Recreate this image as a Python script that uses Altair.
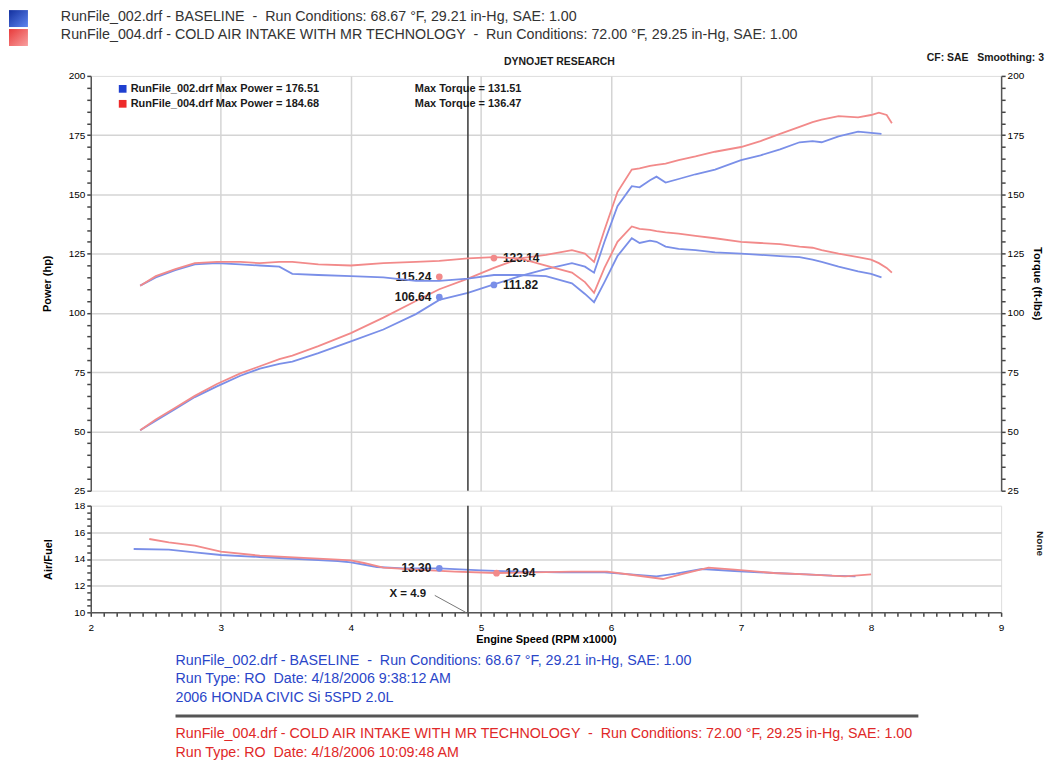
import altair as alt
import pandas as pd

# ---------------- data (read from the dyno sheet) ----------------
blue_rpm = [2.38, 2.5, 2.65, 2.8, 2.97, 3.15, 3.3, 3.45, 3.55, 3.75, 4.0, 4.25, 4.5, 4.68, 4.9,
            5.1, 5.3, 5.5, 5.7, 5.8, 5.87, 5.95, 6.05, 6.16, 6.22, 6.3, 6.35, 6.42, 6.52, 6.65,
            6.8, 7.0, 7.15, 7.3, 7.45, 7.55, 7.62, 7.75, 7.9, 8.0, 8.08]
blue_power = [50.5, 54.5, 59.5, 64.5, 69, 73.5, 76.5, 78.5, 79.5, 83, 88, 93, 99.5, 105.5, 108.5,
              112, 115.5, 118.5, 121, 119.5, 117, 130, 145, 153.5, 153, 156, 157.5, 155, 156.5, 158.5,
              160.5, 164.5, 166.5, 169, 172, 172.5, 172, 174.5, 176.5, 176, 175.5]
blue_torque = [111.5, 115, 118, 120.5, 121, 120.5, 120, 119.5, 116.5, 116, 115.5, 115, 113.5, 113.5, 114.5,
               116, 116, 115.5, 112.5, 108, 104.5, 113, 124, 131.5, 129.5, 130.5, 130, 128, 127, 126.5,
               125.5, 125, 124.5, 124, 123.5, 122.5, 121.5, 119.5, 117.5, 116.5, 115]

red_rpm = [2.38, 2.5, 2.65, 2.8, 2.97, 3.15, 3.3, 3.45, 3.55, 3.75, 4.0, 4.25, 4.5, 4.68, 4.9,
           5.1, 5.3, 5.5, 5.7, 5.8, 5.87, 5.95, 6.05, 6.16, 6.22, 6.3, 6.35, 6.42, 6.52, 6.65,
           6.8, 7.0, 7.15, 7.3, 7.45, 7.55, 7.62, 7.75, 7.9, 8.0, 8.06, 8.12, 8.16]
red_power = [50.5, 55, 60, 65, 70, 74.5, 77.5, 80.5, 82, 86, 91.5, 98, 105, 110, 114.5,
             119, 123, 124.5, 126.5, 125, 121.5, 135, 151, 160.5, 161, 162, 162.5, 163, 164.5, 166,
             168, 170, 172.5, 175.5, 178.5, 180.5, 181.5, 183, 182.5, 183.5, 184.5, 183.5, 180]
red_torque = [111.5, 115.5, 118.5, 121, 121.5, 121.5, 121, 121.5, 121.5, 120.5, 120, 121, 121.5, 122, 123,
              123.5, 123, 120, 117, 113, 108.5, 119, 130, 136.5, 135.5, 135, 134.5, 134, 133.5, 132.5,
              131.5, 130, 129.5, 129, 128, 127.5, 126.5, 125, 123.5, 122.5, 121, 119, 117]

blue_af_rpm = [2.33, 2.6, 2.8, 3.0, 3.3, 3.6, 3.9, 4.0, 4.2, 4.4, 4.68, 5.0, 5.3, 5.6, 5.95, 6.15,
               6.35, 6.5, 6.7, 6.95, 7.25, 7.5, 7.7, 7.88]
blue_af = [14.75, 14.7, 14.5, 14.3, 14.15, 14.0, 13.85, 13.75, 13.4, 13.3, 13.3, 13.15, 13.05, 13.0,
           13.0, 12.85, 12.7, 12.9, 13.25, 13.1, 12.95, 12.85, 12.75, 12.7]
red_af_rpm = [2.45, 2.6, 2.8, 3.0, 3.3, 3.6, 3.9, 4.0, 4.1, 4.25, 4.5, 4.8, 5.12, 5.4, 5.7, 5.97,
              6.17, 6.4, 6.56, 6.75, 6.95, 7.25, 7.5, 7.8, 8.0]
red_af = [15.5, 15.25, 15.0, 14.55, 14.25, 14.1, 13.95, 13.9, 13.7, 13.35, 13.2, 13.05, 12.95, 13.0,
          13.05, 13.05, 12.8, 12.5, 12.9, 13.35, 13.2, 12.95, 12.85, 12.7, 12.85]

cursor_rpm = [4.9]
marker_rpm = [4.68, 4.68, 5.1, 5.1]
marker_val = [106.64, 115.24, 111.82, 123.14]
marker_run = ["Baseline", "CAI", "Baseline", "CAI"]
marker_side = ["left", "left", "right", "right"]
af_marker_rpm = [4.68, 5.12]
af_marker_val = [13.30, 12.94]
af_marker_run = ["Baseline", "CAI"]
af_marker_side = ["left", "right"]

max_power = {"Baseline": 176.51, "CAI": 184.68}
max_torque = {"Baseline": 131.51, "CAI": 136.47}

NB = "\u00a0"
run_line1 = [f"RunFile_002.drf - BASELINE {NB}-{NB} Run Conditions: 68.67 \u00b0F, 29.21 in-Hg, SAE: 1.00",
             f"RunFile_004.drf - COLD AIR INTAKE WITH MR TECHNOLOGY {NB}-{NB} Run Conditions: 72.00 \u00b0F, 29.25 in-Hg, SAE: 1.00"]
run_line2 = [f"Run Type: RO {NB}Date: 4/18/2006 9:38:12 AM", f"Run Type: RO {NB}Date: 4/18/2006 10:09:48 AM"]
vehicle = "2006 HONDA CIVIC Si 5SPD 2.0L"

# ---------------- styling ----------------
FONT = "Liberation Sans"
BLUE_LINE = "#7a8fe8"
RED_LINE = "#f28a8a"
BLUE_MARK = "#1f3fd0"
RED_MARK = "#ee2a2a"
BLUE_TXT = "#2a46c8"
RED_TXT = "#e02828"
GRID = "#d4d4d4"
W = 913
H_MAIN = 416
H_AF = 107
TXT = 14.3

color_scale = alt.Scale(domain=["Baseline", "CAI"], range=[BLUE_LINE, RED_LINE])
mark_scale = alt.Scale(domain=["Baseline", "CAI"], range=[BLUE_MARK, RED_MARK])

power_df = pd.concat([
    pd.DataFrame({"rpm": blue_rpm, "value": blue_power, "run": "Baseline"}),
    pd.DataFrame({"rpm": red_rpm, "value": red_power, "run": "CAI"}),
])
torque_df = pd.concat([
    pd.DataFrame({"rpm": blue_rpm, "value": blue_torque, "run": "Baseline"}),
    pd.DataFrame({"rpm": red_rpm, "value": red_torque, "run": "CAI"}),
])
af_df = pd.concat([
    pd.DataFrame({"rpm": blue_af_rpm, "value": blue_af, "run": "Baseline"}),
    pd.DataFrame({"rpm": red_af_rpm, "value": red_af, "run": "CAI"}),
])
mk_df = pd.DataFrame({"rpm": marker_rpm, "value": marker_val, "run": marker_run, "side": marker_side})
mk_df["label"] = mk_df["value"].map(lambda v: f"{v:.2f}")
afmk_df = pd.DataFrame({"rpm": af_marker_rpm, "value": af_marker_val, "run": af_marker_run, "side": af_marker_side})
afmk_df["label"] = afmk_df["value"].map(lambda v: f"{v:.2f}")
cur_df = pd.DataFrame({"rpm": cursor_rpm})

one = pd.DataFrame({"a": [0]})


def txt(text, x, y, size=9, weight="bold", color="#1a1a1a", align="left", angle=0):
    return alt.Chart(one).mark_text(text=text, fontSize=size, fontWeight=weight, color=color,
                                    align=align, baseline="middle", font=FONT, angle=angle).encode(
        x=alt.value(x), y=alt.value(y))


def box(x1, x2, y1, y2, c_top, c_bottom):
    grad = alt.LinearGradient(gradient="linear", x1=0, y1=0, x2=1, y2=1,
                              stops=[alt.GradientStop(color=c_top, offset=0),
                                     alt.GradientStop(color=c_bottom, offset=1)])
    return alt.Chart(one).mark_rect(color=grad).encode(
        x=alt.value(x1), x2=alt.value(x2), y=alt.value(y1), y2=alt.value(y2))


# ---------------- main (power / torque) panel ----------------
x_main = alt.X("rpm:Q", scale=alt.Scale(domain=[2, 9], nice=False, zero=False),
               axis=alt.Axis(values=[3, 4, 5, 6, 7, 8], labels=False, ticks=False, domain=False,
                             grid=True, gridColor=GRID, gridWidth=1.5, title=None))

minor_main = list(range(25, 201, 5))
left_axis = alt.Axis(values=minor_main, labelExpr="datum.value % 25 == 0 ? datum.label : ''",
                     labelOverlap=False, labelFlush=False, grid=True, gridColor=GRID, gridWidth=1.5,
                     gridOpacity={"condition": {"test": "datum.value % 25 == 0 && datum.value > 25 && datum.value < 200",
                                                "value": 1}, "value": 0},
                     tickSize=4, tickWidth=1.5, tickColor="#444", domainColor="#555", domainWidth=1.5,
                     title="Power (hp)", titlePadding=16)
right_axis = alt.Axis(values=minor_main, labelExpr="datum.value % 25 == 0 ? datum.label : ''",
                      labelOverlap=False, labelFlush=False, grid=False, orient="right",
                      tickSize=4, tickWidth=1.5, tickColor="#444", domainColor="#555", domainWidth=1.5,
                      title="Torque (ft-lbs)", titlePadding=8)
yscale = alt.Scale(domain=[25, 200], nice=False, zero=False)

power_lines = alt.Chart(power_df).mark_line(strokeWidth=1.8).encode(
    x=x_main, y=alt.Y("value:Q", scale=yscale, axis=left_axis),
    color=alt.Color("run:N", scale=color_scale, legend=None), detail="run:N")

cursor_main = alt.Chart(cur_df).mark_rule(color="#444", strokeWidth=1.6).encode(x=x_main)

markers = alt.Chart(mk_df).mark_point(filled=True, size=45, opacity=1).encode(
    x=x_main, y=alt.Y("value:Q", scale=yscale, axis=left_axis),
    color=alt.Color("run:N", scale=mark_scale, legend=None))
mk_left = alt.Chart(mk_df).transform_filter("datum.side == 'left'").mark_text(
    align="right", dx=-8, fontSize=12, fontWeight="bold", font=FONT, color="#1a1a1a").encode(
    x=x_main, y=alt.Y("value:Q", scale=yscale, axis=left_axis), text="label:N")
mk_right = alt.Chart(mk_df).transform_filter("datum.side == 'right'").mark_text(
    align="left", dx=9, fontSize=12, fontWeight="bold", font=FONT, color="#1a1a1a").encode(
    x=x_main, y=alt.Y("value:Q", scale=yscale, axis=left_axis), text="label:N")

main_annotations = [
    box(-82, -63, -66, -49, "#13309e", "#5f86f0"),
    box(-82, -63, -47, -30, "#e83a3a", "#f8a0a0"),
    txt(run_line1[0], -30, -59, size=TXT, weight="normal", color="#333"),
    txt(run_line1[1], -30, -41, size=TXT, weight="normal", color="#333"),
    txt("DYNOJET RESEARCH", 470, -14, size=10.5, align="center"),
    txt(f"CF: SAE{NB}{NB} Smoothing: 3", 956, -18, size=10.5, align="right"),
    alt.Chart(one).mark_square(size=60, color=BLUE_MARK, opacity=1).encode(x=alt.value(32), y=alt.value(13)),
    alt.Chart(one).mark_square(size=60, color=RED_MARK, opacity=1).encode(x=alt.value(32), y=alt.value(28)),
    txt(f"RunFile_002.drf Max Power = {max_power['Baseline']:.2f}", 40, 13, size=11),
    txt(f"Max Torque = {max_torque['Baseline']:.2f}", 325, 13, size=11),
    txt(f"RunFile_004.drf Max Power = {max_power['CAI']:.2f}", 40, 28, size=11),
    txt(f"Max Torque = {max_torque['CAI']:.2f}", 325, 28, size=11),
]

left_layer = alt.layer(power_lines, cursor_main, markers, mk_left, mk_right, *main_annotations)
torque_lines = alt.Chart(torque_df).mark_line(strokeWidth=1.8).encode(
    x=x_main, y=alt.Y("value:Q", scale=yscale, axis=right_axis),
    color=alt.Color("run:N", scale=color_scale, legend=None), detail="run:N")

main = alt.layer(left_layer, torque_lines).resolve_scale(y="independent").properties(width=W, height=H_MAIN)

# ---------------- air/fuel panel ----------------
minor_x = [i / 10 for i in range(20, 91)]
x_af = alt.X("rpm:Q", scale=alt.Scale(domain=[2, 9], nice=False, zero=False),
             axis=alt.Axis(values=minor_x,
                           labelExpr="abs(datum.value - round(datum.value)) < 0.001 ? format(datum.value, 'd') : ''",
                           labelOverlap=False, labelFlush=False, grid=True, gridColor=GRID, gridWidth=1.5,
                           gridOpacity={"condition": {"test": "abs(datum.value - round(datum.value)) < 0.001 && datum.value > 2 && datum.value < 9",
                                                      "value": 1}, "value": 0},
                           tickSize=4, tickWidth=1.5, tickColor="#444", domainColor="#555", domainWidth=1.5,
                           labelPadding=6, title="Engine Speed (RPM x1000)", titlePadding=1))
minor_af = [10 + 0.5 * i for i in range(17)]
af_axis = alt.Axis(values=minor_af, labelExpr="datum.value % 2 == 0 ? format(datum.value, 'd') : ''",
                   labelOverlap=False, labelFlush=False, grid=True, gridColor=GRID, gridWidth=1.5,
                   gridOpacity={"condition": {"test": "datum.value % 2 == 0 && datum.value > 10 && datum.value < 18",
                                              "value": 1}, "value": 0},
                   tickSize=4, tickWidth=1.5, tickColor="#444", domainColor="#555", domainWidth=1.5,
                   title="Air/Fuel", titlePadding=20)
af_scale = alt.Scale(domain=[10, 18], nice=False, zero=False)

af_lines = alt.Chart(af_df).mark_line(strokeWidth=1.8).encode(
    x=x_af, y=alt.Y("value:Q", scale=af_scale, axis=af_axis),
    color=alt.Color("run:N", scale=color_scale, legend=None), detail="run:N")
cursor_af = alt.Chart(cur_df).mark_rule(color="#444", strokeWidth=1.6).encode(x=x_af)
af_markers = alt.Chart(afmk_df).mark_point(filled=True, size=45, opacity=1).encode(
    x=x_af, y=alt.Y("value:Q", scale=af_scale, axis=af_axis),
    color=alt.Color("run:N", scale=mark_scale, legend=None))
af_left = alt.Chart(afmk_df).transform_filter("datum.side == 'left'").mark_text(
    align="right", dx=-8, fontSize=12, fontWeight="bold", font=FONT, color="#1a1a1a").encode(
    x=x_af, y=alt.Y("value:Q", scale=af_scale, axis=af_axis), text="label:N")
af_right = alt.Chart(afmk_df).transform_filter("datum.side == 'right'").mark_text(
    align="left", dx=9, fontSize=12, fontWeight="bold", font=FONT, color="#1a1a1a").encode(
    x=x_af, y=alt.Y("value:Q", scale=af_scale, axis=af_axis), text="label:N")

af_annotations = [
    txt(f"X = {cursor_rpm[0]}", 318, 89, size=11.5, align="center"),
    alt.Chart(one).mark_rule(color="#777", strokeWidth=1).encode(
        x=alt.value(345), x2=alt.value(376), y=alt.value(90), y2=alt.value(107)),
    txt("None", 952, 38, size=10, angle=90, align="center"),
    txt(run_line1[0], 85, 156, size=TXT, weight="normal", color=BLUE_TXT),
    txt(run_line2[0], 85, 174, size=TXT, weight="normal", color=BLUE_TXT),
    txt(vehicle, 85, 193, size=TXT, weight="normal", color=BLUE_TXT),
    alt.Chart(one).mark_rule(color="#555", strokeWidth=3).encode(
        x=alt.value(85), x2=alt.value(830), y=alt.value(211)),
    txt(run_line1[1], 85, 229, size=TXT, weight="normal", color=RED_TXT),
    txt(run_line2[1], 85, 248, size=TXT, weight="normal", color=RED_TXT),
]

af = alt.layer(af_lines, cursor_af, af_markers, af_left, af_right, *af_annotations).properties(
    width=W, height=H_AF)

chart = alt.vconcat(main, af, spacing=3).properties(
    padding={"left": 0, "top": 0, "right": 0, "bottom": 0}
).configure_view(
    stroke="#7a7a7a", strokeWidth=2, cornerRadius=6
).configure_axis(
    labelFont=FONT, labelFontSize=11, labelFontWeight="bold", labelColor="#222",
    titleFont=FONT, titleFontSize=12, titleFontWeight="bold", titleColor="#111"
).configure(background="white")

chart.save("out.html", embed_options={"renderer": "svg", "actions": False})
